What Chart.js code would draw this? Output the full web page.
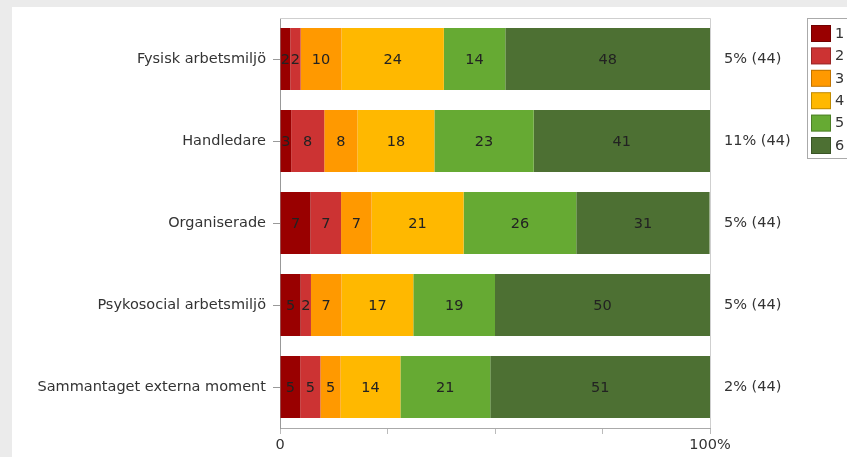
<!DOCTYPE html>
<html>
<head>
<meta charset="utf-8">
<script src="https://cdn.jsdelivr.net/npm/chart.js@4"></script>
<style>
  html, body { margin: 0; padding: 0; background: #ebebeb; }
  #panel { position: absolute; left: 12px; top: 7px; width: 835px; height: 450px; background: #fff; }
</style>
</head>
<body>
<div id="panel"><canvas id="chart" width="835" height="450"></canvas></div>
<script>
// Categories (y axis) and answer levels
const categories = [
    'Fysisk arbetsmiljö',
    'Handledare',
    'Organiserade',
    'Psykosocial arbetsmiljö',
    'Sammantaget externa moment'
];
const levels = ['1', '2', '3', '4', '5', '6'];

// Share of answers per level (%), one value per category
const level1 = [2.4, 2.6, 7.1, 4.8, 4.7];
const level2 = [2.4, 7.7, 7.1, 2.4, 4.7];
const level3 = [9.5, 7.7, 7.1, 7.1, 4.7];
const level4 = [23.8, 17.9, 21.4, 16.7, 13.9];
const level5 = [14.3, 23.1, 26.2, 19.0, 20.9];
const level6 = [47.6, 41.0, 31.0, 50.0, 51.2];

// Right-hand column: no-answer share and respondents
const noAnswerPct = [5, 11, 5, 5, 2];
const respondents = [44, 44, 44, 44, 44];

// X axis tick labels
const xTickValues = [0, 25, 50, 75, 100];
const xTickLabels = ['0', '', '', '', '100%'];

const levelColors = ['#990000', '#cc3333', '#ff9900', '#ffb800', '#66aa33', '#4d7033'];
const levelData = [level1, level2, level3, level4, level5, level6];

const FONT = 'DejaVu Sans';
const FSIZE = 14.5;
const rightLabels = noAnswerPct.map((p, i) => p + '% (' + respondents[i] + ')');

// Numbers inside each bar segment
const segmentLabels = {
    id: 'segmentLabels',
    afterDatasetsDraw(chart) {
        const ctx = chart.ctx;
        ctx.save();
        ctx.font = FSIZE + 'px "' + FONT + '"';
        ctx.fillStyle = '#222';
        ctx.textAlign = 'center';
        ctx.textBaseline = 'middle';
        chart.data.datasets.forEach((ds, di) => {
            chart.getDatasetMeta(di).data.forEach((el, i) => {
                const v = ds.data[i];
                ctx.fillText(Math.round(v), (el.x + el.base) / 2, el.y + 1);
            });
        });
        ctx.restore();
    }
};

// Light frame around plot area + legend box
const frameAndLegend = {
    id: 'frameAndLegend',
    afterDraw(chart) {
        const ctx = chart.ctx;
        const a = chart.chartArea;
        ctx.save();
        ctx.strokeStyle = '#cfcfcf';
        ctx.lineWidth = 1;
        ctx.beginPath();
        ctx.moveTo(a.left, a.top + 0.5);
        ctx.lineTo(a.right + 0.5, a.top + 0.5);
        ctx.lineTo(a.right + 0.5, a.bottom);
        ctx.stroke();

        // legend
        ctx.strokeStyle = '#aaa';
        ctx.strokeRect(795.5, 11.5, 60, 140);
        ctx.font = FSIZE + 'px "' + FONT + '"';
        ctx.textBaseline = 'middle';
        ctx.textAlign = 'left';
        chart.data.datasets.forEach((ds, i) => {
            const cy = 26 + i * 22.4;
            ctx.fillStyle = ds.backgroundColor;
            ctx.fillRect(799, cy - 8, 20, 17);
            ctx.strokeStyle = 'rgba(0,0,0,0.25)';
            ctx.strokeRect(799.5, cy - 7.5, 19, 16);
            ctx.fillStyle = '#333';
            ctx.fillText(ds.label, 823, cy + 1);
        });
        ctx.restore();
    }
};

new Chart(document.getElementById('chart'), {
    type: 'bar',
    data: {
        labels: categories,
        datasets: levels.map((lv, i) => ({
            label: lv,
            data: levelData[i],
            backgroundColor: levelColors[i],
            borderWidth: 0,
            barPercentage: 0.756,
            categoryPercentage: 1
        }))
    },
    options: {
        indexAxis: 'y',
        responsive: false,
        animation: false,
        layout: { padding: { top: 11, left: 0, right: 0, bottom: 0 } },
        plugins: {
            legend: { display: false },
            tooltip: { enabled: false }
        },
        scales: {
            x: {
                stacked: true,
                min: 0,
                max: 100,
                afterBuildTicks(scale) {
                    scale.ticks = xTickValues.map(v => ({ value: v }));
                },
                afterFit(scale) { scale.height = 29; },
                ticks: {
                    autoSkip: false,
                    maxRotation: 0,
                    padding: 3,
                    color: '#333',
                    font: { family: FONT, size: FSIZE },
                    callback: (v) => xTickLabels[xTickValues.indexOf(v)]
                },
                grid: { drawOnChartArea: false, tickLength: 6, color: '#bbb' },
                border: { color: '#aaa' }
            },
            y: {
                stacked: true,
                afterFit(scale) {
                    scale.width = 268;
                    scale.paddingTop = 0;
                    scale.paddingBottom = 0;
                },
                ticks: {
                    padding: 7,
                    color: '#333',
                    font: { family: FONT, size: FSIZE }
                },
                grid: { drawOnChartArea: false, offset: false, tickLength: 7, color: '#999' },
                border: { color: '#999' }
            },
            y2: {
                type: 'category',
                position: 'right',
                labels: rightLabels,
                offset: true,
                afterFit(scale) {
                    scale.width = 137;
                    scale.paddingTop = 0;
                    scale.paddingBottom = 0;
                },
                ticks: {
                    padding: 14,
                    color: '#333',
                    font: { family: FONT, size: FSIZE }
                },
                grid: { drawOnChartArea: false, drawTicks: false },
                border: { display: false }
            }
        }
    },
    plugins: [segmentLabels, frameAndLegend]
});
</script>
</body>
</html>
